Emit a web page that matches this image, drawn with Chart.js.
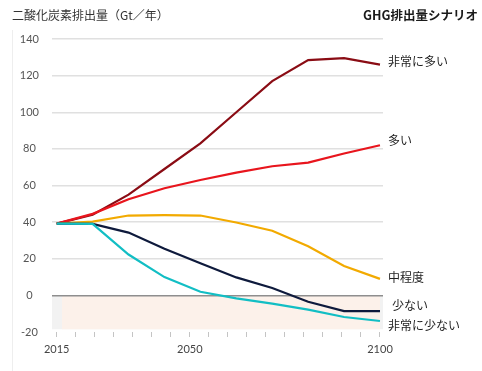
<!DOCTYPE html>
<html lang="ja">
<head>
<meta charset="utf-8">
<title>GHG排出量シナリオ</title>
<script src="https://cdn.jsdelivr.net/npm/chart.js@4.4.1/dist/chart.umd.min.js"></script>
<style>
  html, body { margin: 0; padding: 0; background: #fff; }
  #wrap { position: relative; width: 482px; height: 371px; overflow: hidden; }
  #emissionsChart { position: absolute; left: 0; top: 0; }
  .title { position: absolute; top: 6px; font-family: "Noto Sans CJK JP", "Noto Sans", sans-serif; font-size: 12px; line-height: 18px; white-space: nowrap; }
  #titleLeft { left: 12px; color: #333; }
  #titleRight { right: 4px; color: #1a1a1a; font-weight: bold; font-size: 12.5px; }
  #edge { position: absolute; left: 12px; top: 30px; width: 1px; height: 341px; background: #eeeeee; }
</style>
</head>
<body>
<div id="wrap">
  <div id="edge"></div>
  <canvas id="emissionsChart" width="482" height="371"></canvas>
  <div class="title" id="titleLeft">二酸化炭素排出量（Gt／年）</div>
  <div class="title" id="titleRight">GHG排出量シナリオ</div>
</div>
<script>
// Años de los datos (se dibujan a intervalos iguales, como en la figura original)
const years = [2015, 2020, 2030, 2040, 2050, 2060, 2070, 2080, 2090, 2100];

// Nombres de los escenarios
const scenarioNames = ['非常に多い', '多い', '中程度', '少ない', '非常に少ない'];

// Emisiones de CO2 (Gt/año) por escenario
const veryHigh = [39.2, 44.0, 55.0, 69.0, 83.0, 100.0, 117.0, 128.5, 129.5, 126.0];
const high     = [39.2, 44.5, 52.5, 58.5, 63.0, 67.0, 70.5, 72.5, 77.5, 82.0];
const medium   = [39.2, 40.3, 43.6, 43.8, 43.6, 39.8, 35.3, 26.8, 16.0, 9.0];
const low      = [39.2, 39.0, 34.3, 25.5, 17.5, 9.8, 4.0, -3.5, -8.6, -8.6];
const veryLow  = [39.2, 39.0, 22.3, 10.0, 2.0, -1.6, -4.5, -7.8, -11.8, -14.0];

// Marcas del eje X (cada 5 años) y etiquetas visibles
const xTickYears = [2015, 2020, 2025, 2030, 2035, 2040, 2045, 2050, 2055, 2060, 2065, 2070, 2075, 2080, 2085, 2090, 2095, 2100];
const xTickLabels = [2015, 2050, 2100];

// Marcas del eje Y
const yTicks = [-20, 0, 20, 40, 60, 80, 100, 120, 140];

// Estilos de cada serie (mismo orden que scenarioNames)
const seriesColors = ['#8a0c14', '#e8151d', '#f2aa00', '#0e1a3c', '#12bec4'];
const labelNudge = [-3, -5, -1.5, -6, 4.5];
const labelIndent = [5, 5, 5, 9, 5];

document.addEventListener('DOMContentLoaded', function() {
  initializeEmissionsChart();
});

/**
 * Sombreado de la zona negativa (por debajo de 0)
 */
const negativeZonePlugin = {
  id: 'negativeZone',
  beforeDraw(chart) {
    const { ctx, chartArea } = chart;
    const y = chart.scales.y;
    const x2 = chart.scales.x2;
    const top = y.getPixelForValue(0);
    const bottom = y.getPixelForValue(-18.5);
    ctx.save();
    ctx.fillStyle = '#f2f2f2';
    ctx.fillRect(chartArea.left, top, chartArea.right - chartArea.left, bottom - top);
    ctx.fillStyle = '#fcf1ea';
    const l = x2.getPixelForValue(2016.4);
    const r = x2.getPixelForValue(2100);
    ctx.fillRect(l, top, r - l, bottom - top);
    ctx.restore();
  }
};

/**
 * Etiquetas de escenario al final de cada línea
 */
const endLabelsPlugin = {
  id: 'endLabels',
  afterDatasetsDraw(chart) {
    const { ctx, chartArea } = chart;
    const y = chart.scales.y;
    ctx.save();
    ctx.font = '12px "Noto Sans CJK JP", sans-serif';
    ctx.fillStyle = '#1f1f1f';
    ctx.textAlign = 'left';
    ctx.textBaseline = 'middle';
    chart.data.datasets.forEach((ds) => {
      const i = scenarioNames.indexOf(ds.label);
      const last = ds.data[ds.data.length - 1].y;
      ctx.fillText(ds.label, chartArea.right + labelIndent[i], y.getPixelForValue(last) + labelNudge[i]);
    });
    ctx.restore();
  }
};

/**
 * Inicializa el gráfico de emisiones
 */
function initializeEmissionsChart() {
  const ctx = document.getElementById('emissionsChart').getContext('2d');
  const seriesValues = [veryHigh, high, medium, low, veryLow];

  const datasets = scenarioNames.map((name, i) => ({
    label: name,
    data: seriesValues[i].map((v, j) => ({ x: j, y: v })),
    borderColor: seriesColors[i],
    backgroundColor: seriesColors[i],
    borderWidth: 2.2,
    pointRadius: 0,
    tension: 0,
    fill: false
  }));

  const tickFont = { family: 'Lato, "Open Sans", sans-serif', size: 11 };

  window.emissionsChart = new Chart(ctx, {
    type: 'line',
    // invertido para que las líneas rojas queden encima
    data: { datasets: datasets.reverse() },
    options: {
      responsive: false,
      devicePixelRatio: 1,
      animation: false,
      layout: { padding: { top: 39, right: 99, bottom: 0, left: 0 } },
      plugins: {
        legend: { display: false },
        tooltip: { enabled: false }
      },
      scales: {
        // Eje oculto para los datos (índice del año)
        x: {
          type: 'linear',
          display: false,
          min: -0.131,
          max: years.length - 1 + 0.084
        },
        // Eje visible con las marcas de años
        x2: {
          type: 'linear',
          position: 'bottom',
          min: 2013.76,
          max: 2100.79,
          afterBuildTicks: (scale) => {
            scale.ticks = xTickYears.map(v => ({ value: v }));
          },
          afterFit: (scale) => { scale.height = 39; },
          grid: {
            drawOnChartArea: false,
            drawTicks: true,
            tickLength: 5,
            color: '#c4c4c4',
            lineWidth: 1
          },
          border: { display: false },
          ticks: {
            autoSkip: false,
            maxRotation: 0,
            padding: 6,
            color: '#444',
            font: tickFont,
            callback: (v) => xTickLabels.includes(v) ? String(v) : ''
          }
        },
        y: {
          type: 'linear',
          min: yTicks[0],
          max: yTicks[yTicks.length - 1],
          afterBuildTicks: (scale) => {
            scale.ticks = yTicks.map(v => ({ value: v }));
          },
          afterFit: (scale) => { scale.width = 52; },
          grid: {
            drawTicks: false,
            lineWidth: 1.5,
            color: (c) => {
              if (c.tick && c.tick.value === 0) return '#8e8e8e';
              if (c.tick && c.tick.value === -20) return 'rgba(0,0,0,0)';
              return '#e0e0e0';
            }
          },
          border: { display: false },
          ticks: {
            crossAlign: 'center',
            padding: 13,
            color: '#555',
            font: tickFont
          }
        }
      }
    },
    plugins: [negativeZonePlugin, endLabelsPlugin]
  });
}
</script>
</body>
</html>
